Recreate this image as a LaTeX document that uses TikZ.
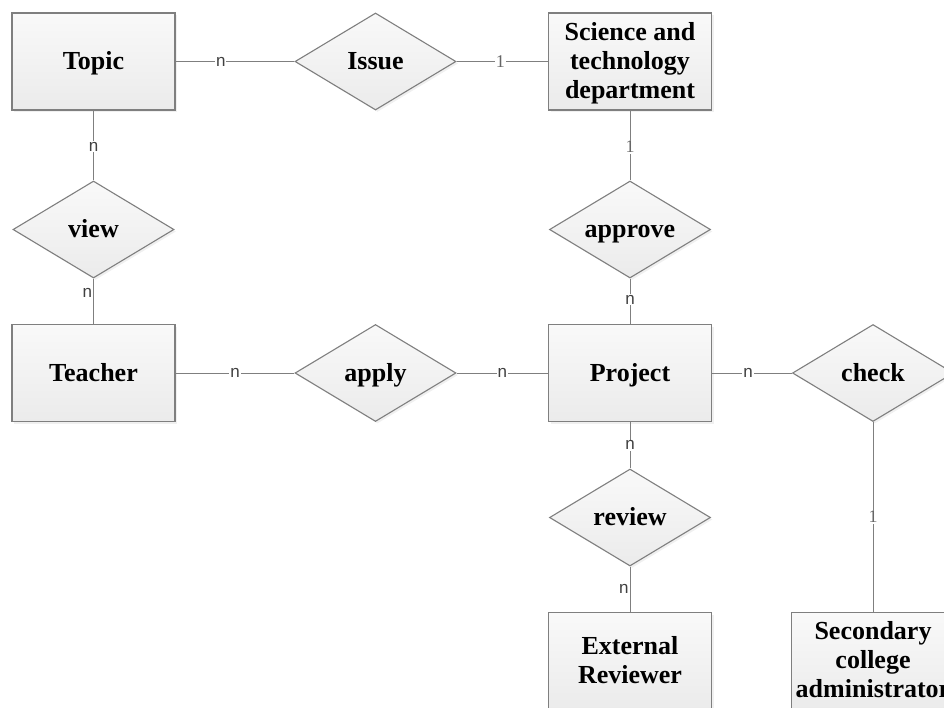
\documentclass[tikz,border=0pt]{standalone}
\usepackage{fontspec}
\setmainfont{Liberation Serif}
\newfontfamily\labelfont{Liberation Sans}
\usepackage{tikz}
\usetikzlibrary{shapes.geometric,shadows}
\definecolor{edgegray}{HTML}{7f7f7f}
\definecolor{boxtop}{HTML}{f9f9f9}
\definecolor{boxbot}{HTML}{ebebeb}
\definecolor{onegray}{HTML}{666666}

\tikzset{
  erbase/.style={draw=edgegray, line width=1.1pt, top color=boxtop, bottom color=boxbot,
    drop shadow={shadow xshift=2pt, shadow yshift=-2pt, opacity=0.12},
    font=\fontsize{26}{29}\selectfont\bfseries, align=center, inner sep=0pt},
  entity/.style={erbase, rectangle, minimum width=163pt, minimum height=97pt},
  relation/.style={erbase, diamond, aspect=1.65, minimum width=161pt, minimum height=97pt},
  oneline/.style={text height=17.5pt, text depth=1pt},
  twoline/.style={text height=45pt, text depth=1pt},
  threeline/.style={text height=74pt, text depth=1pt},
  link/.style={draw=edgegray, line width=1pt},
  cardtext/.style={font=\labelfont\fontsize{17}{17}\selectfont, text=black!75, inner sep=1pt},
  cardn/.style={cardtext, fill=white},
  cardside/.style={cardtext, anchor=east},
  cardone/.style={fill=white, inner sep=1pt, font=\fontsize{18}{18}\selectfont, text=onegray}
}

\begin{document}
\begin{tikzpicture}[x=1pt, y=-1pt]
  \useasboundingbox (0,0) rectangle (944,707);
  \clip (0,0) rectangle (944,707);

  % entities
  \node[entity, oneline] (topic) at (93.5, 61.5) {Topic};
  \node[entity, threeline] (scitech) at (630, 61.5) {Science and\\technology\\department};
  \node[entity, oneline] (teacher) at (93.5, 373) {Teacher};
  \node[entity, oneline] (project) at (630, 373) {Project};
  \node[entity, twoline] (extrev) at (630, 661) {External\\Reviewer};
  \node[entity, threeline] (secadmin) at (873, 661) {Secondary\\college\\administrator};

  % relations
  \node[relation, oneline] (issue) at (375.5, 61.5) {Issue};
  \node[relation, oneline] (view) at (93.5, 229.5) {view};
  \node[relation, oneline] (approve) at (630, 229.5) {approve};
  \node[relation, oneline] (apply) at (375.5, 373) {apply};
  \node[relation, oneline] (check) at (873, 373) {check};
  \node[relation, oneline] (review) at (630, 517.5) {review};

  % connectors with cardinalities
  \draw[link] (topic) -- node[cardn, pos=0.38] {n} (issue);
  \draw[link] (issue) -- node[cardone, pos=0.48] {1} (scitech);
  \draw[link] (topic) -- node[cardn, pos=0.52] {n} (view);
  \draw[link] (scitech) -- node[cardone, pos=0.52] {1} (approve);
  \draw[link] (view) -- node[cardside, pos=0.32] {n} (teacher);
  \draw[link] (approve) -- node[cardn, pos=0.46] {n} (project);
  \draw[link] (teacher) -- node[cardn, pos=0.5] {n} (apply);
  \draw[link] (apply) -- node[cardn, pos=0.5] {n} (project);
  \draw[link] (project) -- node[cardn, pos=0.45] {n} (check);
  \draw[link] (project) -- node[cardn, pos=0.5] {n} (review);
  \draw[link] (review) -- node[cardside, pos=0.5] {n} (extrev);
  \draw[link] (check) -- node[cardone, pos=0.5] {1} (secadmin);
\end{tikzpicture}
\end{document}
